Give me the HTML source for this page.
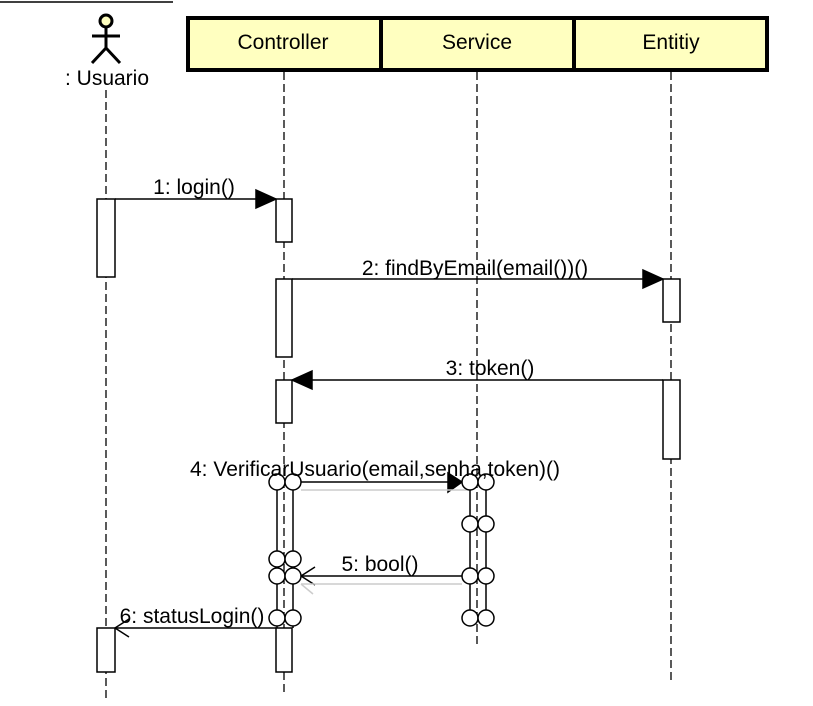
<!DOCTYPE html>
<html><head><style>body{margin:0;background:#fff}svg{display:block;font-family:"Liberation Sans",sans-serif}</style></head><body>
<svg width="813" height="706" viewBox="0 0 813 706">
<line x1="0" y1="2" x2="173" y2="2" stroke="#000" stroke-width="1.5"/>
<g stroke="#000" stroke-width="3" fill="none">
<circle cx="106" cy="21" r="6" fill="#ffffc0"/>
<line x1="106" y1="27" x2="106" y2="48"/><line x1="92" y1="36" x2="120" y2="36"/>
<line x1="106" y1="48" x2="92" y2="63"/><line x1="106" y1="48" x2="120" y2="63"/>
</g>
<text x="107" y="85" font-size="21" text-anchor="middle">: Usuario</text>
<g stroke="#000" stroke-width="4" fill="#ffffc0">
<rect x="188" y="18" width="193" height="52"/><rect x="381" y="18" width="193" height="52"/><rect x="574" y="18" width="193" height="52"/>
</g>
<g font-size="21" text-anchor="middle"><text x="283" y="49">Controller</text><text x="477" y="49">Service</text><text x="671" y="49">Entitiy</text></g>
<g stroke="#000" stroke-width="1.3" stroke-dasharray="8,4">
<line x1="106" y1="90" x2="106" y2="700"/><line x1="284" y1="72" x2="284" y2="695"/><line x1="477" y1="72" x2="477" y2="645"/><line x1="671" y1="72" x2="671" y2="680"/>
</g>
<g stroke="#000" stroke-width="1.5" fill="#fff">
<rect x="97" y="199" width="18" height="78"/><rect x="276" y="199" width="16" height="43"/><rect x="276" y="279" width="16" height="78"/><rect x="276" y="380" width="16" height="43"/>
<rect x="663" y="279" width="17" height="43"/><rect x="663" y="380" width="17" height="79"/>
<rect x="97" y="628" width="18" height="44"/><rect x="276" y="628" width="16" height="44"/>
</g>
<g stroke="#000" stroke-width="1.5">
<line x1="115" y1="199" x2="258" y2="199"/><polygon points="276,199 256,190 256,208"/>
<line x1="292" y1="279" x2="645" y2="279"/><polygon points="663,279 643,270 643,288"/>
<line x1="663" y1="380" x2="310" y2="380"/><polygon points="292,380 312,371 312,389"/>
<line x1="301" y1="482" x2="448" y2="482"/><polygon points="462,482 448,473 448,492"/>
<line x1="462" y1="576" x2="301" y2="576"/><polyline points="315,567 301,576 315,585" fill="none"/>
<line x1="276" y1="628" x2="115" y2="628"/><polyline points="129,619 115,628 129,637" fill="none"/>
</g>
<g stroke="#ccc" stroke-width="1.5" fill="none"><line x1="301" y1="490" x2="470" y2="490"/><line x1="301" y1="584" x2="462" y2="584"/><line x1="313" y1="594" x2="301" y2="584"/></g>
<g stroke="#000" stroke-width="1.5" fill="none">
<line x1="277" y1="490" x2="277" y2="628"/><line x1="293" y1="490" x2="293" y2="628"/>
<line x1="470" y1="490" x2="470" y2="618"/><line x1="486" y1="490" x2="486" y2="618"/>
</g>
<g stroke="#000" stroke-width="1.5" fill="#fff">
<circle cx="277" cy="482" r="8"/><circle cx="293" cy="482" r="8"/>
<circle cx="277" cy="559" r="8"/><circle cx="293" cy="559" r="8"/>
<circle cx="277" cy="576" r="8"/><circle cx="293" cy="576" r="8"/>
<circle cx="277" cy="618" r="8"/><circle cx="293" cy="618" r="8"/>
<circle cx="470" cy="482" r="8"/><circle cx="486" cy="482" r="8"/>
<circle cx="470" cy="524" r="8"/><circle cx="486" cy="524" r="8"/>
<circle cx="470" cy="576" r="8"/><circle cx="486" cy="576" r="8"/>
<circle cx="470" cy="618" r="8"/><circle cx="486" cy="618" r="8"/>
</g>
<g font-size="21" text-anchor="middle">
<text x="194" y="194">1: login()</text>
<text x="475" y="275">2: findByEmail(email())()</text>
<text x="490" y="375">3: token()</text>
<text x="375" y="476">4: VerificarUsuario(email,senha,token)()</text>
<text x="380" y="571">5: bool()</text>
<text x="192" y="623">6: statusLogin()</text>
</g>
</svg>
</body></html>
